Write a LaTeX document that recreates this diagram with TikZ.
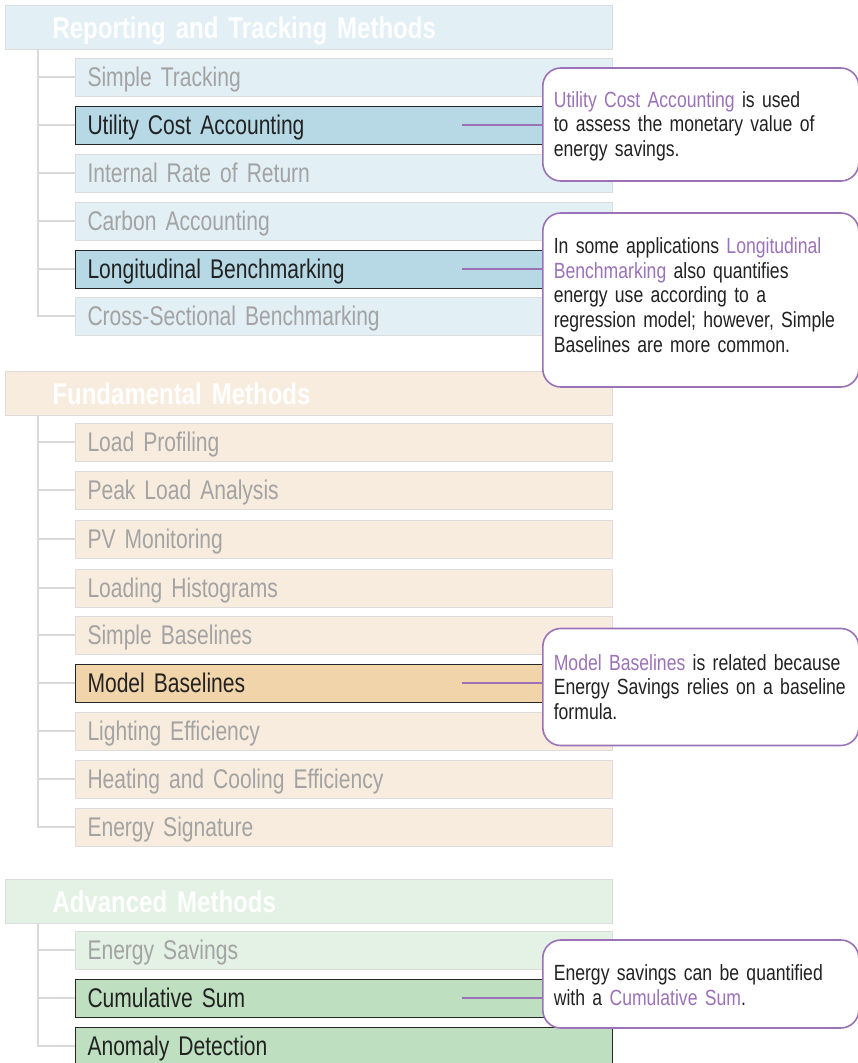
\documentclass[tikz,border=0pt]{standalone}
\usepackage{fontspec}
\setmainfont{Liberation Sans}[FakeStretch=0.78]
\newfontfamily\hdfont{Liberation Sans}[FakeStretch=0.8]
\newfontfamily\cofont{Liberation Sans}[FakeStretch=0.8]
\newcommand{\nohyph}{\hyphenpenalty=10000\relax}
\definecolor{bluepale}{HTML}{E2EFF5}
\definecolor{bluehi}{HTML}{B7D9E6}
\definecolor{orapale}{HTML}{F8ECDE}
\definecolor{orahi}{HTML}{F2D4AB}
\definecolor{grnpale}{HTML}{E3F2E4}
\definecolor{grnhi}{HTML}{BFE0C0}
\definecolor{edgegray}{HTML}{DCDCDC}
\definecolor{treegray}{HTML}{D9D9D9}
\definecolor{dimtext}{HTML}{A3A3A3}
\definecolor{hitext}{HTML}{222222}
\definecolor{purp}{HTML}{9B72B8}
\newcommand{\pk}[1]{\textcolor{purp}{#1}}
\begin{document}
\begin{tikzpicture}[x=1pt,y=-1pt,
  box/.style={anchor=west, minimum height=38pt, text width=513pt, inner xsep=12pt, inner ysep=0pt, align=left,
    font=\fontsize{27}{30}\selectfont, text height=20pt, text depth=0.5pt, draw=edgegray, line width=1pt, text=dimtext},
  hibox/.style={box, draw=black!85, text=hitext},
  header/.style={anchor=west, minimum height=44pt, text width=513pt, inner xsep=47pt, inner ysep=0pt, align=left,
    font=\hdfont\fontsize{30}{34}\selectfont\bfseries, text height=22pt, text depth=0pt, draw=edgegray, line width=1pt, text=white},
  tree/.style={draw=treegray, line width=2.5pt},
  conn/.style={draw=purp, line width=2.2pt},
  callout/.style={anchor=west, draw=purp, line width=1.6pt, fill=white, rounded corners=18pt,
    text width=294pt, inner xsep=11pt, inner ysep=0pt, align=left, text=hitext,
    font=\cofont\fontsize{22}{24.6}\selectfont\nohyph}
]
\useasboundingbox (0,0) rectangle (858,1063);
\clip (0,0) rectangle (858,1063);

% ---------- Reporting and Tracking ----------
\node[header, fill=bluepale] (h1) at (5,27) {Reporting and Tracking Methods};
\node[box, fill=bluepale] (st)  at (75,77)  {Simple Tracking};
\node[hibox, fill=bluehi] (uca) at (75,125) {Utility Cost Accounting};
\node[box, fill=bluepale] (irr) at (75,173) {Internal Rate of Return};
\node[box, fill=bluepale] (ca)  at (75,221) {Carbon Accounting};
\node[hibox, fill=bluehi] (lb)  at (75,269) {Longitudinal Benchmarking};
\node[box, fill=bluepale] (csb) at (75,316) {Cross-Sectional Benchmarking};
\coordinate (t1) at (38,49.5);
\foreach \n in {st,uca,irr,ca,lb,csb} \draw[tree] (t1) |- (\n.west);

% ---------- Fundamental ----------
\node[header, fill=orapale] (h2) at (5,393) {Fundamental Methods};
\node[box, fill=orapale] (lp)  at (75,442) {Load Profiling};
\node[box, fill=orapale] (pla) at (75,490) {Peak Load Analysis};
\node[box, fill=orapale] (pv)  at (75,539) {PV Monitoring};
\node[box, fill=orapale] (lh)  at (75,588) {Loading Histograms};
\node[box, fill=orapale] (sb)  at (75,635) {Simple Baselines};
\node[hibox, fill=orahi] (mb)  at (75,683) {Model Baselines};
\node[box, fill=orapale] (le)  at (75,731) {Lighting Efficiency};
\node[box, fill=orapale] (hce) at (75,779) {Heating and Cooling Efficiency};
\node[box, fill=orapale] (es)  at (75,827) {Energy Signature};
\coordinate (t2) at (38,415.5);
\foreach \n in {lp,pla,pv,lh,sb,mb,le,hce,es} \draw[tree] (t2) |- (\n.west);

% ---------- Advanced ----------
\node[header, fill=grnpale] (h3) at (5,901) {Advanced Methods};
\node[box, fill=grnpale] (esv) at (75,950)  {Energy Savings};
\node[hibox, fill=grnhi] (cs)  at (75,998)  {Cumulative Sum};
\node[hibox, fill=grnhi] (ad)  at (75,1046) {Anomaly Detection};
\coordinate (t3) at (38,922.5);
\foreach \n in {esv,cs,ad} \draw[tree] (t3) |- (\n.west);

% ---------- callouts ----------
\node[callout, minimum height=113pt] (c1) at (542,124.5)
  {\pk{Utility Cost Accounting} is used\\ to assess the monetary value of\\ energy savings.\par\vspace*{-3pt}};
\node[callout, minimum height=174pt] (c2) at (542,300)
  {In some applications \pk{Longitudinal}\\ \pk{Benchmarking} also quantifies\\ energy use according to a\\ regression model; however, Simple\\ Baselines are more common.\par\vspace*{10pt}};
\node[callout, minimum height=117pt] (c3) at (542,687)
  {\pk{Model Baselines} is related because\\ Energy Savings relies on a baseline\\ formula.};
\node[callout, minimum height=88pt] (c4) at (542,984)
  {Energy savings can be quantified\\ with a \pk{Cumulative Sum}.\par\vspace*{-2pt}};

\coordinate (u1) at (462,125);
\coordinate (u2) at (462,269);
\coordinate (u3) at (462,683);
\coordinate (u4) at (462,998);
\draw[conn] (u1) -- (u1 -| c1.west);
\draw[conn] (u2) -- (u2 -| c2.west);
\draw[conn] (u3) -- (u3 -| c3.west);
\draw[conn] (u4) -- (u4 -| c4.west);
\end{tikzpicture}
\end{document}
